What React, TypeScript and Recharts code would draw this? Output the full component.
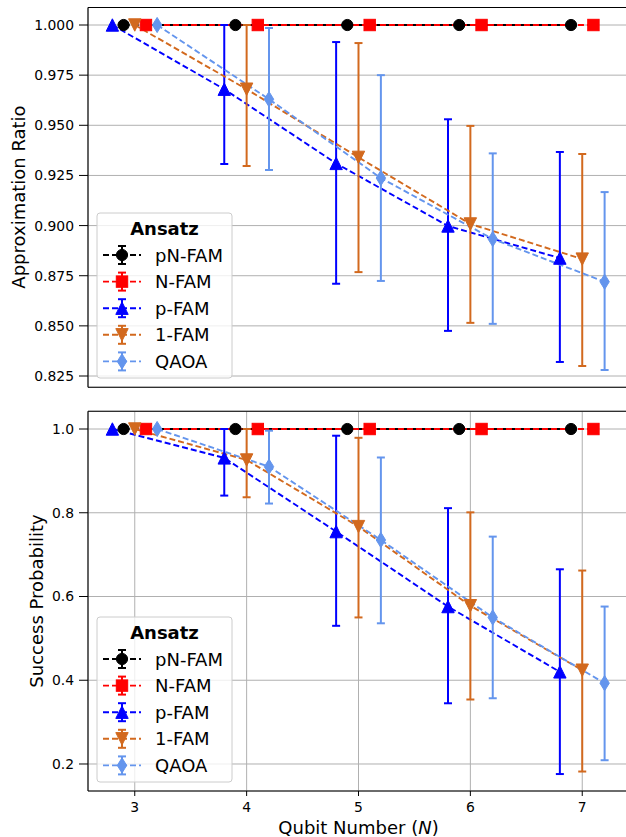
import React from 'react';
import { LineChart, Line, XAxis, YAxis, CartesianGrid, ErrorBar, ReferenceLine } from 'recharts';

// ---------- data ----------
const qubits = [3, 4, 5, 6, 7];
const seriesNames = ['pN-FAM', 'N-FAM', 'p-FAM', '1-FAM', 'QAOA'];
const seriesOffsets = [-0.1, 0.1, -0.2, 0, 0.2];
const seriesColors = ['#000000', '#ff0000', '#0000ff', '#d2691e', '#6495ed'];
const seriesShapes = ['circle', 'square', 'triUp', 'triDown', 'thinDiamond'];

// Approximation ratio (top panel)
const arPNFAM = [1.0, 1.0, 1.0, 1.0, 1.0];
const arNFAM = [1.0, 1.0, 1.0, 1.0, 1.0];
const arPFAM = [1.0, 0.968, 0.931, 0.8998, 0.8838];
const arPFAMLow = [1.0, 0.9307, 0.871, 0.8475, 0.832];
const arPFAMHigh = [1.0, 1.0, 0.9915, 0.953, 0.9367];
const ar1FAM = [1.0, 0.968, 0.934, 0.9008, 0.8833];
const ar1FAMLow = [1.0, 0.9297, 0.8768, 0.8515, 0.83];
const ar1FAMHigh = [1.0, 1.0, 0.991, 0.9497, 0.9357];
const arQAOA = [1.0, 0.963, 0.9237, 0.8933, 0.872];
const arQAOALow = [1.0, 0.9277, 0.8724, 0.851, 0.828];
const arQAOAHigh = [1.0, 0.9985, 0.975, 0.936, 0.9167];

// Success probability (bottom panel)
const spPNFAM = [1.0, 1.0, 1.0, 1.0, 1.0];
const spNFAM = [1.0, 1.0, 1.0, 1.0, 1.0];
const spPFAM = [1.0, 0.931, 0.755, 0.576, 0.42];
const spPFAMLow = [1.0, 0.841, 0.53, 0.345, 0.176];
const spPFAMHigh = [1.0, 1.0, 0.984, 0.811, 0.665];
const sp1FAM = [1.0, 0.926, 0.767, 0.578, 0.424];
const sp1FAMLow = [1.0, 0.837, 0.55, 0.354, 0.182];
const sp1FAMHigh = [1.0, 1.0, 0.979, 0.801, 0.662];
const spQAOA = [1.0, 0.91, 0.735, 0.55, 0.393];
const spQAOALow = [1.0, 0.822, 0.536, 0.357, 0.209];
const spQAOAHigh = [1.0, 0.996, 0.932, 0.743, 0.576];

const xTicks = [3, 4, 5, 6, 7];
const arTicks = [0.825, 0.85, 0.875, 0.9, 0.925, 0.95, 0.975, 1.0];
const spTicks = [0.2, 0.4, 0.6, 0.8, 1.0];

const xDomain: [number, number] = [2.582, 7.418];
const arDomain: [number, number] = [0.81937, 1.00873];
const spDomain: [number, number] = [0.1355, 1.0423];

// ---------- helpers ----------
type Pt = { x: number; y: number; err?: [number, number] };

function build(vals: number[], offset: number, lows?: number[], highs?: number[]): Pt[] {
  return qubits.map((n, i) => {
    const p: Pt = { x: +(n + offset).toFixed(3), y: vals[i] };
    if (lows && highs) {
      const lo = vals[i] - lows[i];
      const hi = highs[i] - vals[i];
      if (lo > 1e-9 || hi > 1e-9) p.err = [lo, hi];
    }
    return p;
  });
}

const topSeries: Pt[][] = [
  build(arPNFAM, seriesOffsets[0]),
  build(arNFAM, seriesOffsets[1]),
  build(arPFAM, seriesOffsets[2], arPFAMLow, arPFAMHigh),
  build(ar1FAM, seriesOffsets[3], ar1FAMLow, ar1FAMHigh),
  build(arQAOA, seriesOffsets[4], arQAOALow, arQAOAHigh),
];
const bottomSeries: Pt[][] = [
  build(spPNFAM, seriesOffsets[0]),
  build(spNFAM, seriesOffsets[1]),
  build(spPFAM, seriesOffsets[2], spPFAMLow, spPFAMHigh),
  build(sp1FAM, seriesOffsets[3], sp1FAMLow, sp1FAMHigh),
  build(spQAOA, seriesOffsets[4], spQAOALow, spQAOAHigh),
];

const FONT = 'DejaVu Sans, sans-serif';
const DASH = '6 3';

function Marker({ shape, cx, cy, color }: { shape: string; cx: number; cy: number; color: string }) {
  switch (shape) {
    case 'circle':
      return <circle cx={cx} cy={cy} r={5.6} fill={color} stroke={color} strokeWidth={1} />;
    case 'square':
      return <rect x={cx - 5.7} y={cy - 5.7} width={11.4} height={11.4} fill={color} stroke={color} strokeWidth={1} />;
    case 'triUp':
      return <polygon points={`${cx},${cy - 6.2} ${cx - 6.2},${cy + 6.2} ${cx + 6.2},${cy + 6.2}`} fill={color} stroke={color} strokeWidth={1} />;
    case 'triDown':
      return <polygon points={`${cx},${cy + 6.2} ${cx - 6.2},${cy - 6.2} ${cx + 6.2},${cy - 6.2}`} fill={color} stroke={color} strokeWidth={1} />;
    case 'thinDiamond':
      return <polygon points={`${cx},${cy - 7.6} ${cx + 4.7},${cy} ${cx},${cy + 7.6} ${cx - 4.7},${cy}`} fill={color} stroke={color} strokeWidth={1} />;
    default:
      return null;
  }
}

const makeDot = (shape: string, color: string) => (props: any) => {
  const { cx, cy, index } = props;
  if (cx == null || cy == null || isNaN(cx) || isNaN(cy)) return <g key={`d-${shape}-${index}`} />;
  return (
    <g key={`d-${shape}-${index}`}>
      <Marker shape={shape} cx={cx} cy={cy} color={color} />
    </g>
  );
};

function Panel({
  series, domain, ticks, fmt, height, marginTop, xAxisHeight, showXLabels,
}: {
  series: Pt[][]; domain: [number, number]; ticks: number[]; fmt: (v: number) => string;
  height: number; marginTop: number; xAxisHeight: number; showXLabels: boolean;
}) {
  return (
    <LineChart width={640} height={height} margin={{ top: marginTop, right: 11, bottom: 0, left: 0 }}>
      <CartesianGrid stroke="#b0b0b0" strokeWidth={1} />
      <XAxis
        type="number"
        dataKey="x"
        domain={xDomain}
        allowDataOverflow
        ticks={xTicks}
        height={xAxisHeight}
        tickSize={5}
        tickMargin={6}
        axisLine={{ stroke: '#000', strokeWidth: 1.1 }}
        tickLine={{ stroke: '#000', strokeWidth: 1 }}
        tick={showXLabels ? { fill: '#000', fontSize: 13.9, fontFamily: FONT } : false}
        interval={0}
      />
      <YAxis
        type="number"
        domain={domain}
        allowDataOverflow
        ticks={ticks}
        width={88}
        tickSize={9}
        tickMargin={5}
        tickFormatter={fmt}
        axisLine={{ stroke: '#000', strokeWidth: 1.1 }}
        tickLine={{ stroke: '#000', strokeWidth: 1 }}
        tick={{ fill: '#000', fontSize: 13.9, fontFamily: FONT }}
        interval={0}
      />
      <ReferenceLine y={domain[1]} stroke="#000" strokeWidth={1.1} />
      {series.map((data, si) => (
        <Line
          key={seriesNames[si]}
          data={data}
          dataKey="y"
          name={seriesNames[si]}
          stroke={seriesColors[si]}
          strokeWidth={1.9}
          strokeDasharray={DASH}
          type="linear"
          isAnimationActive={false}
          dot={makeDot(seriesShapes[si], seriesColors[si])}
          activeDot={false}
        >
          {si >= 2 ? (
            <ErrorBar dataKey="err" direction="y" width={4} strokeWidth={2} stroke={seriesColors[si]} isAnimationActive={false} />
          ) : null}
        </Line>
      ))}
    </LineChart>
  );
}

function LegendBox({ top }: { top: number }) {
  const left = 97;
  const w = 135;
  const h = 165;
  const firstRow = top + 42;
  const rowStep = 26.6;
  return (
    <g>
      <rect x={left} y={top} width={w} height={h} rx={3} ry={3} fill="#ffffff" fillOpacity={0.8} stroke="#cccccc" strokeWidth={1} />
      <text x={left + w / 2} y={top + 21.5} textAnchor="middle" fontFamily={FONT} fontSize={18} fontWeight="bold" fill="#000">
        Ansatz
      </text>
      {seriesNames.map((name, i) => {
        const cy = firstRow + i * rowStep;
        const c = seriesColors[i];
        return (
          <g key={name}>
            <line x1={103} x2={141} y1={cy} y2={cy} stroke={c} strokeWidth={1.9} strokeDasharray={DASH} />
            <line x1={122} x2={122} y1={cy - 9} y2={cy + 9} stroke={c} strokeWidth={2} />
            <line x1={118} x2={126} y1={cy - 9} y2={cy - 9} stroke={c} strokeWidth={2} />
            <line x1={118} x2={126} y1={cy + 9} y2={cy + 9} stroke={c} strokeWidth={2} />
            <Marker shape={seriesShapes[i]} cx={122} cy={cy} color={c} />
            <text x={155} y={cy + 6.5} fontFamily={FONT} fontSize={18} fill="#000">
              {name}
            </text>
          </g>
        );
      })}
    </g>
  );
}

export default function App() {
  return (
    <div
      style={{
        position: 'absolute', left: 0, top: 0, width: 626, height: 837,
        overflow: 'hidden', background: '#ffffff', fontFamily: FONT,
      }}
    >
      <div style={{ position: 'absolute', left: 0, top: 0 }}>
        <Panel
          series={topSeries}
          domain={arDomain}
          ticks={arTicks}
          fmt={(v) => v.toFixed(3)}
          height={400}
          marginTop={7.5}
          xAxisHeight={12.7}
          showXLabels={false}
        />
      </div>
      <div style={{ position: 'absolute', left: 0, top: 400 }}>
        <Panel
          series={bottomSeries}
          domain={spDomain}
          ticks={spTicks}
          fmt={(v) => v.toFixed(1)}
          height={437}
          marginTop={11.3}
          xAxisHeight={46}
          showXLabels={true}
        />
      </div>
      <svg
        width={626}
        height={837}
        style={{ position: 'absolute', left: 0, top: 0, pointerEvents: 'none' }}
      >
        <LegendBox top={213} />
        <LegendBox top={617} />
        <text
          transform="translate(25,197) rotate(-90)"
          textAnchor="middle"
          fontFamily={FONT}
          fontSize={18}
          fill="#000"
        >
          Approximation Ratio
        </text>
        <text
          transform="translate(43,601) rotate(-90)"
          textAnchor="middle"
          fontFamily={FONT}
          fontSize={18}
          fill="#000"
        >
          Success Probability
        </text>
        <text x={358.5} y={834} textAnchor="middle" fontFamily={FONT} fontSize={18} fill="#000">
          Qubit Number (<tspan fontStyle="italic">N</tspan>)
        </text>
      </svg>
    </div>
  );
}
